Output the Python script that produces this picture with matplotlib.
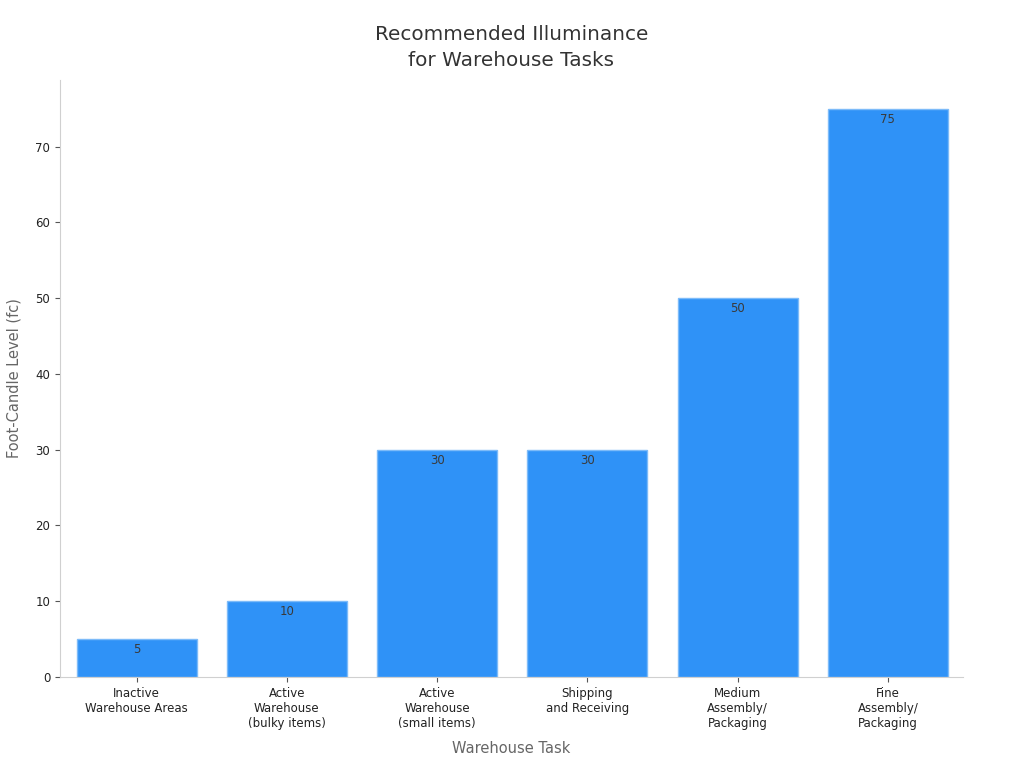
import matplotlib
matplotlib.use("Agg")
import matplotlib.pyplot as plt

tasks = ["Inactive\nWarehouse Areas", "Active\nWarehouse\n(bulky items)",
         "Active\nWarehouse\n(small items)", "Shipping\nand Receiving",
         "Medium\nAssembly/\nPackaging", "Fine\nAssembly/\nPackaging"]
foot_candles = [5, 10, 30, 30, 50, 75]

fig = plt.figure(figsize=(10.24, 7.68), dpi=100)
ax = fig.add_axes([0.0586, 0.1185, 0.8818, 0.7773])

x = range(len(tasks))
bars = ax.bar(x, foot_candles, width=0.8, color="#2F92F7", edgecolor="#7DBBF9", linewidth=1)

for bar, val in zip(bars, foot_candles):
    ax.annotate(f"{val}", (bar.get_x() + bar.get_width() / 2, bar.get_height()),
                xytext=(0, -3), textcoords="offset points",
                ha="center", va="top", fontsize=8.5, color="#3a3a3a")

ax.set_xlim(-0.51, 5.5)
ax.set_ylim(0, 78.8)
ax.set_xticks(list(x))
ax.set_xticklabels(tasks, fontsize=8.5, color="#222222", linespacing=1.2)
ax.set_yticks(range(0, 80, 10))
ax.tick_params(axis="y", labelsize=8.5, labelcolor="#222222", color="#555555")
ax.tick_params(axis="x", color="#555555")

for s in ["top", "right"]:
    ax.spines[s].set_visible(False)
for s in ["left", "bottom"]:
    ax.spines[s].set_color("#d0d0d0")

ax.set_xlabel("Warehouse Task", fontsize=10.5, color="#666666", labelpad=8)
ax.set_ylabel("Foot-Candle Level (fc)", fontsize=10.5, color="#666666", labelpad=10)
ax.set_title("Recommended Illuminance\nfor Warehouse Tasks", fontsize=14.4, color="#333333",
             pad=10, linespacing=1.45)

fig.savefig("out.png", dpi=100)
